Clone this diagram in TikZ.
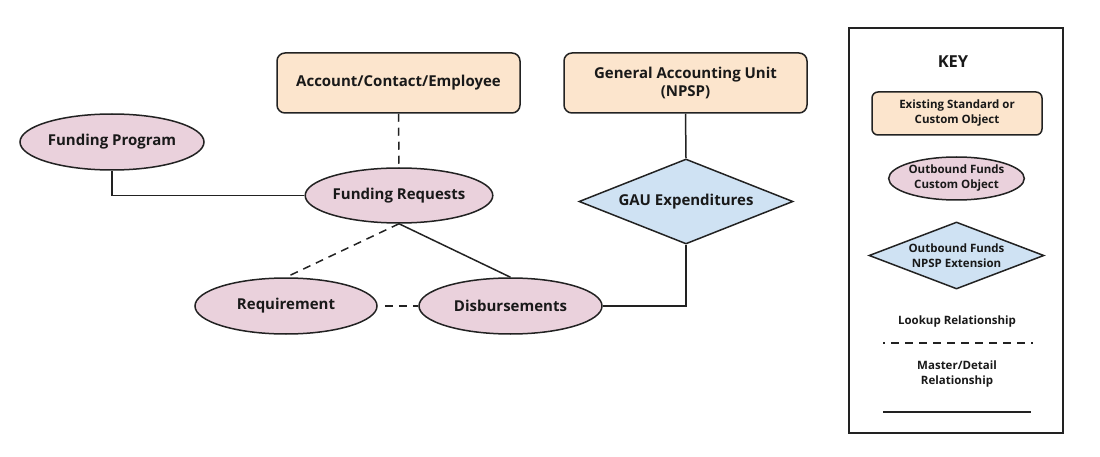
\documentclass[tikz,border=0pt]{standalone}
\usepackage{fontspec}
\setmainfont{Open Sans}
\usetikzlibrary{shapes.geometric}
\definecolor{peach}{HTML}{FCE5CD}
\definecolor{pinkish}{HTML}{EAD1DC}
\definecolor{lblue}{HTML}{CFE2F3}
\definecolor{edge}{HTML}{222222}
\tikzset{
  base/.style={draw=edge, line width=1.5pt, inner sep=0pt, align=center, text=black!90, font=\bfseries\fontsize{15}{18}\selectfont},
  existing/.style={base, rectangle, rounded corners=8pt, fill=peach},
  custom/.style={base, ellipse, fill=pinkish},
  npsp/.style={base, diamond, aspect=2.5, fill=lblue},
  keytext/.style={base, font=\bfseries\fontsize{11.5}{15}\selectfont},
  conn/.style={draw=edge, line width=1.5pt},
  lookup/.style={conn, dash pattern=on 8pt off 6pt},
}
\begin{document}
\begin{tikzpicture}[x=1pt,y=-1pt]
\useasboundingbox (0,0) rectangle (1100,457);
% main objects
\node[existing, minimum width=243pt, minimum height=60pt] (acct) at (398.5,83) {Account/Contact/Employee};
\node[existing, minimum width=243pt, minimum height=60pt] (gau) at (685.5,83) {General Accounting Unit\\(NPSP)};
\node[custom, minimum width=184pt, minimum height=56pt] (fp) at (112,142) {Funding Program};
\node[custom, minimum width=182pt, minimum height=55pt] (fr) at (399,195.5) {Funding Requests};
\node[npsp, minimum width=214pt, minimum height=85pt] (gaue) at (686,201.5) {GAU Expenditures};
\node[custom, minimum width=182pt, minimum height=56pt] (req) at (286,306) {Requirement};
\node[custom, minimum width=183pt, minimum height=56pt] (disb) at (510.5,306) {Disbursements};
% connectors
\draw[lookup] (acct.south) -- (fr.north);
\draw[conn] (fp.south) |- (fr.west);
\draw[conn] (gau.south) -- (gaue.north);
\draw[conn] (gaue.south) |- (disb.east);
\draw[lookup] (fr.south) -- (req.north);
\draw[conn] (fr.south) -- (disb.north);
\draw[lookup, shorten <=7pt] (req.east) -- (disb.west);
% key
\node[draw=edge, line width=1.5pt, minimum width=214pt, minimum height=405pt, inner sep=0pt] (keybox) at (956,230.5) {};
\node[base, draw=none, font=\bfseries\fontsize{16.5}{19}\selectfont] (keytitle) at (953,62) {KEY};
\node[existing, keytext, minimum width=170pt, minimum height=43pt, rounded corners=6pt] (kex) at (957,113.5) {Existing Standard or\\Custom Object};
\node[custom, keytext, minimum width=133pt, minimum height=43pt] (kcu) at (956.5,178.5) {Outbound Funds\\Custom Object};
\node[npsp, keytext, minimum width=175pt, minimum height=67pt] (knp) at (956.5,255.5) {Outbound Funds\\NPSP Extension};
\node[keytext, draw=none] (klook) at (957,322) {Lookup Relationship};
\coordinate (kl1) at (883,343);
\coordinate (kl2) at (1033,343);
\draw[conn, dash pattern=on 8pt off 6pt, dash phase=6pt] (kl1) -- (kl2);
\node[keytext, draw=none] (kmd) at (957,374) {Master/Detail\\Relationship};
\coordinate (km1) at (883,412);
\coordinate (km2) at (1031,412);
\draw[conn] (km1) -- (km2);
\end{tikzpicture}
\end{document}
